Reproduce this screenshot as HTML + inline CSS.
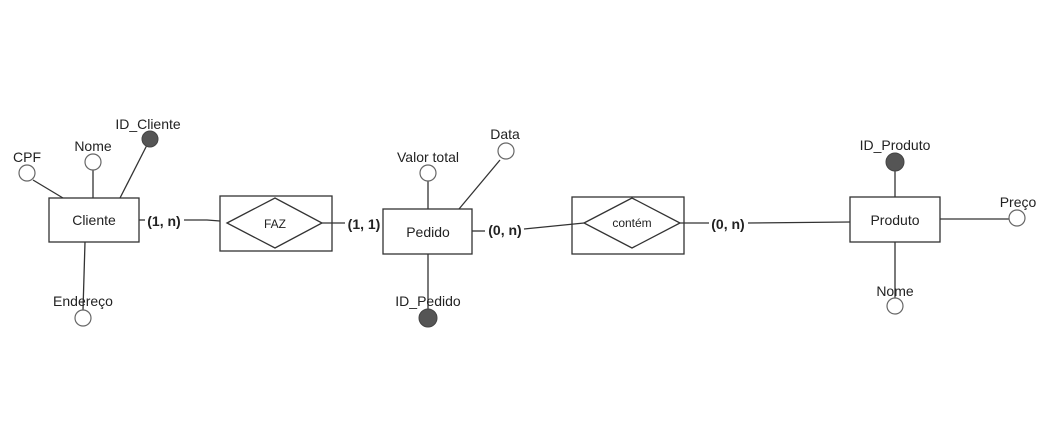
<!DOCTYPE html>
<html><head><meta charset="utf-8"><style>body{margin:0;background:#fff}svg{display:block}</style></head><body>
<svg width="1050" height="444" xmlns="http://www.w3.org/2000/svg" font-family="Liberation Sans, sans-serif">
<g stroke="#333" stroke-width="1.3" fill="none">
<line x1="33" y1="180" x2="63" y2="198"/>
<line x1="93" y1="170" x2="93" y2="198"/>
<line x1="147" y1="145" x2="120" y2="198"/>
<line x1="85" y1="242" x2="83" y2="310"/>
<line x1="139" y1="220" x2="145" y2="220"/>
<polyline points="184,220 207,220 220,221"/>
<line x1="322" y1="223" x2="345" y2="223"/>
<line x1="428" y1="181" x2="428" y2="209"/>
<line x1="459" y1="209" x2="500" y2="160"/>
<line x1="428" y1="254" x2="428" y2="310"/>
<line x1="472" y1="231" x2="485" y2="231"/>
<line x1="524" y1="229" x2="584" y2="223"/>
<line x1="680" y1="223" x2="709" y2="223"/>
<line x1="748" y1="223" x2="850" y2="222"/>
<line x1="895" y1="168" x2="895" y2="197"/>
<line x1="895" y1="242" x2="895" y2="298"/>
<line x1="940" y1="219" x2="1010" y2="219"/>
<rect x="49" y="198" width="90" height="44"/>
<rect x="220" y="196" width="112" height="55"/>
<polygon points="227,223 275,198 322,223 275,248"/>
<rect x="383" y="209" width="89" height="45"/>
<rect x="572" y="197" width="112" height="57"/>
<polygon points="584,223 632,198 680,223 632,248"/>
<rect x="850" y="197" width="90" height="45"/>
</g>
<g stroke="#666" stroke-width="1.2" fill="#fff">
<circle cx="27" cy="173" r="8"/>
<circle cx="93" cy="162" r="8"/>
<circle cx="83" cy="318" r="8"/>
<circle cx="428" cy="173" r="8"/>
<circle cx="506" cy="151" r="8"/>
<circle cx="895" cy="306" r="8"/>
<circle cx="1017" cy="218" r="8"/>
</g>
<g fill="#555" stroke="#444">
<circle cx="150" cy="139" r="8"/>
<circle cx="428" cy="318" r="9"/>
<circle cx="895" cy="162" r="9"/>
</g>
<g font-size="14" fill="#222" text-anchor="middle">
<text x="27" y="162">CPF</text>
<text x="93" y="151">Nome</text>
<text x="148" y="129">ID_Cliente</text>
<text x="83" y="306">Endereço</text>
<text x="94" y="225">Cliente</text>
<text x="428" y="162">Valor total</text>
<text x="505" y="139">Data</text>
<text x="428" y="306">ID_Pedido</text>
<text x="428" y="237">Pedido</text>
<text x="895" y="150">ID_Produto</text>
<text x="895" y="296">Nome</text>
<text x="1018" y="207">Preço</text>
<text x="895" y="225">Produto</text>
<text x="275" y="228" font-size="12">FAZ</text>
<text x="632" y="227" font-size="12">contém</text>
</g>
<g font-size="14" font-weight="bold" fill="#222" text-anchor="middle">
<text x="164" y="226">(1, n)</text>
<text x="364" y="229">(1, 1)</text>
<text x="505" y="235">(0, n)</text>
<text x="728" y="229">(0, n)</text>
</g>
</svg>
</body></html>
